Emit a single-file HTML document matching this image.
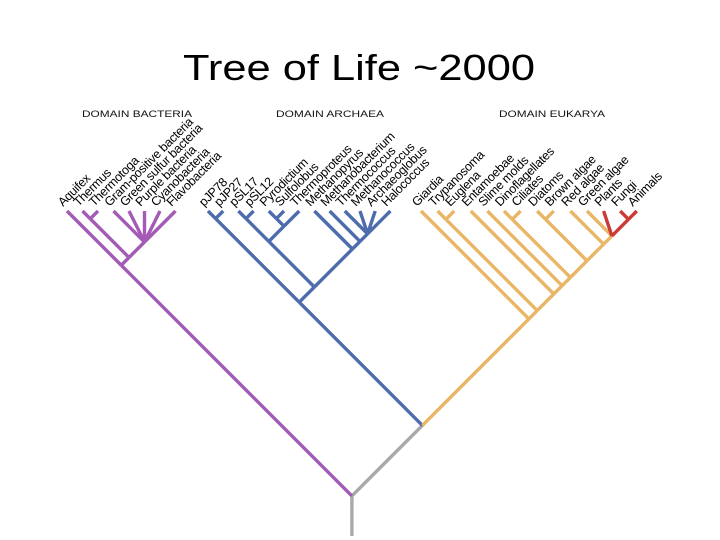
<!DOCTYPE html>
<html><head><meta charset="utf-8"><style>
html,body{margin:0;padding:0;background:#fff}
svg{display:block}
text{font-family:"Liberation Sans",Arial,sans-serif}
</style></head><body>
<svg id="chart" width="720" height="540" viewBox="0 0 720 540">
<text x="183" y="80" font-size="36" textLength="352" lengthAdjust="spacingAndGlyphs" fill="#000">Tree of Life ~2000</text>
<text x="82" y="117" font-size="9.5" textLength="110" lengthAdjust="spacingAndGlyphs" fill="#111">DOMAIN BACTERIA</text>
<text x="276" y="117" font-size="9.5" textLength="108" lengthAdjust="spacingAndGlyphs" fill="#111">DOMAIN ARCHAEA</text>
<text x="499" y="117" font-size="9.5" textLength="106" lengthAdjust="spacingAndGlyphs" fill="#111">DOMAIN EUKARYA</text>
<g id="edges"></g><g id="labels"></g>
</svg>
<script>
// Leaf names per domain (left-to-right order)
const bacteriaLeaves = ["Aquifex","Thermus","Thermotoga","Gram-positive bacteria","Green sulfur bacteria","Purple bacteria","Cyanobacteria","Flavobacteria"];
const archaeaLeaves = ["pJP78","pJP27","pSL17","pSL12","Pyrodictium","Sulfolobus","Thermoproteus","Methanopyrus","Methanobacterium","Thermococcus","Methanococcus","Archaeoglobus","Halococcus"];
const eukaryaLeaves = ["Giardia","Trypanosoma","Euglena","Entamoebae","Slime molds","Dinoflagellates","Ciliates","Diatoms","Brown algae","Red algae","Green algae","Plants","Fungi","Animals"];
// Topology (nested arrays of leaf names)
const bacteriaTree = ["Aquifex",[["Thermus","Thermotoga"],["Gram-positive bacteria","Green sulfur bacteria","Purple bacteria","Cyanobacteria","Flavobacteria"]]];
const archaeaTree = [["pJP78","pJP27"],[[["pSL17","pSL12"],[["Pyrodictium","Sulfolobus"],"Thermoproteus"]],["Methanopyrus",["Methanobacterium",["Thermococcus","Methanococcus","Archaeoglobus","Halococcus"]]]]];
const eukaryaTree = ["Giardia",[["Trypanosoma","Euglena"],["Entamoebae",["Slime molds",[["Dinoflagellates","Ciliates"],[["Diatoms","Brown algae"],["Red algae",["Green algae","Plants",["Fungi","Animals"]]]]]]]]];
const redLeaves = ["Plants","Fungi","Animals"];

// layout
const tipY = 211;
const domains = [
  {leaves: bacteriaLeaves, start: 67, step: 15.5, color: "#a35bb5"},
  {leaves: archaeaLeaves, start: 208, step: 15.2, color: "#4d6cad"},
  {leaves: eukaryaLeaves, start: 421, step: 16.6, color: "#e9b666"}
];
const leafX = {}, leafColor = {};
domains.forEach(d => d.leaves.forEach((n, i) => { leafX[n] = d.start + i * d.step; leafColor[n] = d.color; }));

const E = document.getElementById('edges'), L = document.getElementById('labels');
const NS = "http://www.w3.org/2000/svg";
function layout(t) {
  if (typeof t === 'string') return {x: leafX[t], y: tipY, min: leafX[t], max: leafX[t], leaf: t};
  const kids = t.map(layout);
  const mn = Math.min(...kids.map(k => k.min)), mx = Math.max(...kids.map(k => k.max));
  return {x: (mn + mx) / 2, y: tipY + (mx - mn) / 2, min: mn, max: mx, kids};
}
function line(a, b, color, name) {
  const l = document.createElementNS(NS, 'line');
  l.setAttribute('x1', a.x); l.setAttribute('y1', a.y); l.setAttribute('x2', b.x); l.setAttribute('y2', b.y);
  l.setAttribute('stroke', color); l.setAttribute('stroke-width', '3.4'); l.setAttribute('stroke-linecap', 'butt');
  
  
  E.appendChild(l);
}
function leavesOf(n) { return n.leaf ? [n.leaf] : n.kids.flatMap(leavesOf); }
function draw(n, color) {
  if (!n.kids) return;
  n.kids.forEach(k => {
    const lv = leavesOf(k);
    const c = lv.every(x => redLeaves.includes(x)) ? "#cc3a35" : color;
    line(n, k, c, k.leaf ? 'branch-' + k.leaf.toLowerCase().replace(/\s+/g, '-') : 'internal-branch');
    draw(k, color);
  });
}
const bac = layout(bacteriaTree), arc = layout(archaeaTree), euk = layout(eukaryaTree);
const ae = layout([archaeaTree, eukaryaTree]);
const root = layout([bacteriaTree, [archaeaTree, eukaryaTree]]);
line({x: root.x, y: 536}, root, "#a9a9a9", 'root-trunk');
line(root, ae, "#a9a9a9", 'archaea-eukarya-stem');
line(root, bac, "#a35bb5", 'bacteria-stem');
line(ae, arc, "#4d6cad", 'archaea-stem');
line(ae, euk, "#e9b666", 'eukarya-stem');
draw(bac, "#a35bb5"); draw(arc, "#4d6cad"); draw(euk, "#e9b666");

// labels
Object.keys(leafX).forEach(n => {
  const t = document.createElementNS(NS, 'text');
  const x = leafX[n] - 4, y = tipY - 4;
  t.setAttribute('x', x); t.setAttribute('y', y);
  t.setAttribute('font-size', '12.5');
  t.setAttribute('letter-spacing', '-0.3');
  t.setAttribute('fill', '#000');
  t.setAttribute('transform', `rotate(-45 ${x} ${y})`);
  t.textContent = n;
  
  
  L.appendChild(t);
});
</script>
</body></html>
